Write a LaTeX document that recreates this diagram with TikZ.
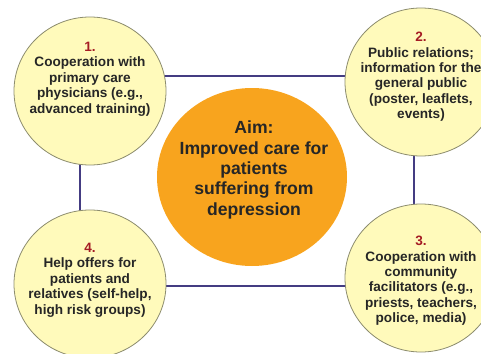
\documentclass[tikz,border=0pt]{standalone}
\usepackage{fontspec}
\setmainfont{Liberation Sans}
\usepackage{xcolor}
\usetikzlibrary{shapes.geometric,backgrounds}

\definecolor{bubblefill}{RGB}{255,250,187}
\definecolor{bubbleedge}{RGB}{140,140,110}
\definecolor{aimfill}{RGB}{248,164,30}
\definecolor{framecol}{RGB}{68,60,130}
\definecolor{numcol}{RGB}{165,28,36}
\definecolor{textcol}{RGB}{38,38,38}

\newcommand{\stepnum}[1]{{\color{numcol}#1}}

\begin{document}
\begin{tikzpicture}[x=1pt, y=-1pt,
    bubble/.style={draw=bubbleedge, line width=0.8pt, fill=bubblefill, ellipse,
      minimum width=152pt, minimum height=148pt, inner sep=0pt},
    aim/.style={fill=aimfill, ellipse, minimum width=190pt, minimum height=178pt, inner sep=0pt},
    bubbletext/.style={anchor=north, align=center, inner sep=0pt, text=textcol,
      font=\fontsize{13.6}{15.4}\selectfont\bfseries},
    aimtext/.style={anchor=north, align=center, inner sep=0pt, text=textcol,
      font=\fontsize{17.6}{20.3}\selectfont\bfseries},
    link/.style={draw=framecol, line width=1.8pt}]
    \useasboundingbox (0,0) rectangle (481,353);
    \coordinate (tl) at (80,76);
    \coordinate (tr) at (414,76);
    \coordinate (br) at (414,286);
    \coordinate (bl) at (80,286);
    \node[bubble] (c1) at (90,91) {};
    \node[bubble] (c2) at (421,82) {};
    \node[bubble] (c3) at (421,278) {};
    \node[bubble] (c4) at (90,284) {};
    \node[aim] (goal) at (252,177) {};
    \node[bubbletext] (t1) at (90,42) {\stepnum{1.}\\ Cooperation with\\ primary care\\ physicians (e.g.,\\ advanced training)};
    \node[bubbletext] (t2) at (421,32) {\stepnum{2.}\\ Public relations;\\ information for the\\ general public\\ (poster, leaflets,\\ events)};
    \node[bubbletext] (t3) at (421,236) {\stepnum{3.}\\ Cooperation with\\ community\\ facilitators (e.g.,\\ priests, teachers,\\ police, media)};
    \node[bubbletext] (t4) at (90,243) {\stepnum{4.}\\ Help offers for\\ patients and\\ relatives (self-help,\\ high risk groups)};
    \node[aimtext] (tgoal) at (254,121) {Aim:\\ Improved care for\\ patients\\ suffering from\\ depression};
    % frame behind the circles
    \begin{scope}[on background layer]
      \draw[link] (tl) -- (tr) -- (br) -- (bl) -- cycle;
    \end{scope}
  \end{tikzpicture}
\end{document}
